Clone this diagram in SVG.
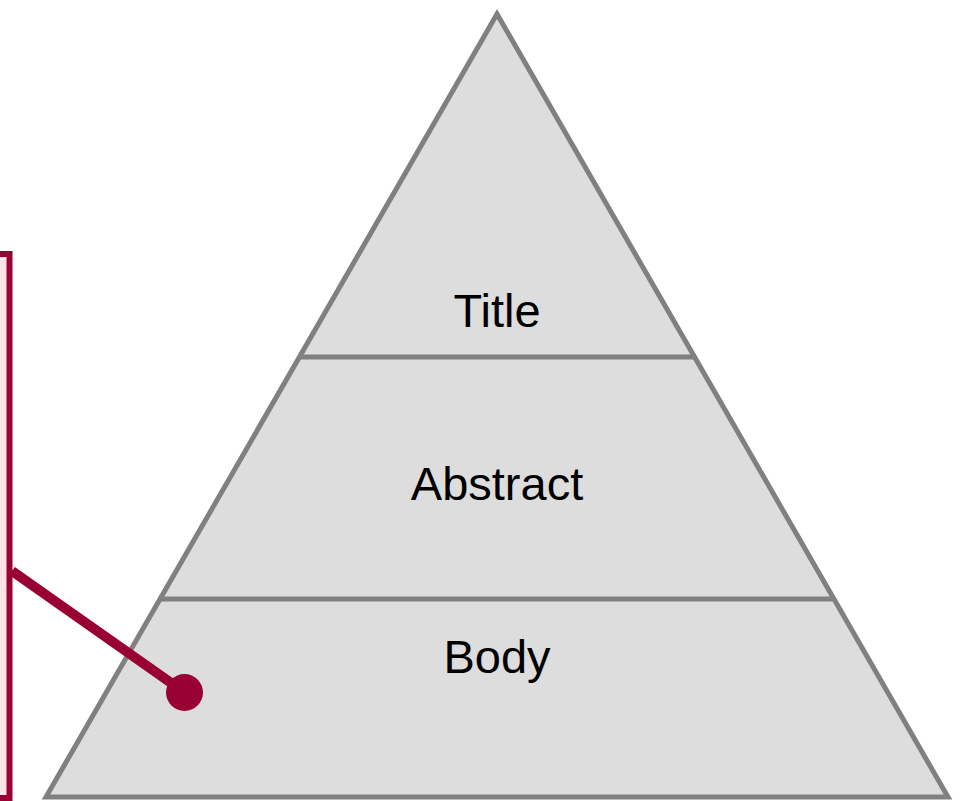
<svg xmlns="http://www.w3.org/2000/svg" width="961" height="801" viewBox="0 0 961 801">
<style>
.lvl{fill:#DDDDDD;stroke:#808080;stroke-width:5}
.sep{stroke:#808080;stroke-width:5;fill:none}
.lbl{font-family:"Liberation Sans",Arial,sans-serif;font-size:47px;fill:#000;text-anchor:middle}
.conn{stroke:#990033;stroke-width:10;fill:none}
</style>
<rect width="961" height="801" fill="#FFFFFF"/>
<g id="callout">
<rect x="-20" y="254" width="29.5" height="544" fill="#FFE3E8" stroke="#990033" stroke-width="6"/>
</g>
<g id="pyramid">
<polygon class="lvl" points="497,14 46,797 948,797"/>
<line class="sep" x1="298" y1="357" x2="696" y2="357"/>
<line class="sep" x1="159" y1="599" x2="835" y2="599"/>
</g>
<g id="title"><text class="lbl" x="497" y="327">Title</text></g>
<g id="abstract"><text class="lbl" x="497" y="500">Abstract</text></g>
<g id="body"><text class="lbl" x="497" y="673">Body</text></g>
<g id="connectors">
<line class="conn" x1="12" y1="571" x2="184" y2="692"/>
<circle cx="184.5" cy="692.5" r="18.5" fill="#990033"/>
</g>
</svg>
